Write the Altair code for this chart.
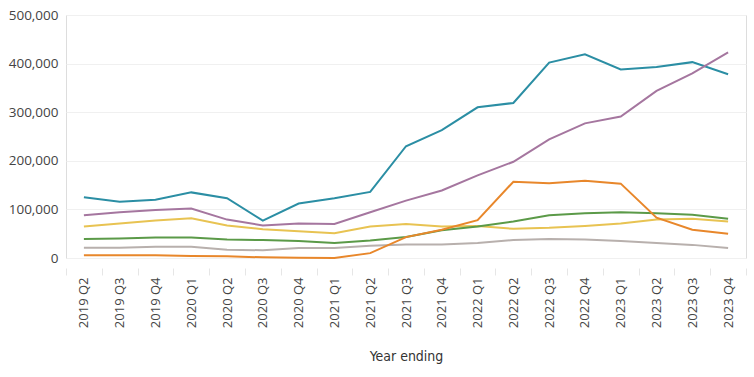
import altair as alt
import pandas as pd

quarters = ["2019 Q2", "2019 Q3", "2019 Q4", "2020 Q1", "2020 Q2", "2020 Q3", "2020 Q4",
            "2021 Q1", "2021 Q2", "2021 Q3", "2021 Q4", "2022 Q1", "2022 Q2", "2022 Q3",
            "2022 Q4", "2023 Q1", "2023 Q2", "2023 Q3", "2023 Q4"]

teal = [125000, 116000, 120000, 135000, 123000, 77000, 112000, 123000, 136000, 230000,
        263000, 310000, 319000, 402000, 419000, 388000, 393000, 403000, 378000]
purple = [88000, 94000, 99000, 102000, 79000, 67000, 71000, 70000, 94000, 118000,
          139000, 170000, 198000, 244000, 277000, 291000, 344000, 380000, 423000]
yellow = [65000, 71000, 77000, 82000, 67000, 59000, 55000, 51000, 65000, 70000,
          65000, 66000, 60000, 62000, 66000, 71000, 79000, 81000, 75000]
green = [39000, 40000, 42000, 42000, 38000, 37000, 35000, 31000, 36000, 43000,
         57000, 65000, 75000, 88000, 92000, 94000, 92000, 89000, 81000]
gray = [21000, 21000, 23000, 23000, 17000, 16000, 20500, 20500, 25000, 28000,
        28000, 31000, 37000, 39000, 38000, 35000, 31000, 27000, 20500]
orange = [5500, 5500, 5500, 4000, 3400, 1400, 700, 0, 10000, 43000,
          58000, 78000, 157000, 154000, 159000, 153000, 83000, 58000, 50000]

series_names = ["Series 1", "Series 2", "Series 3", "Series 4", "Series 5", "Series 6"]
series_values = [teal, purple, yellow, green, gray, orange]
series_colors = ["#2b8ea4", "#a5769f", "#e8c352", "#5b9a48", "#b8b0ad", "#e8872b"]

rows = []
for name, vals in zip(series_names, series_values):
    for q, v in zip(quarters, vals):
        rows.append({"Quarter": q, "Value": v, "Series": name})
df = pd.DataFrame(rows)

font = "Open Sans"

chart = alt.Chart(df).mark_line(strokeWidth=2).encode(
    x=alt.X("Quarter:N", sort=quarters, bandPosition=0.5,
            scale=alt.Scale(type="band", paddingInner=0, paddingOuter=0),
            axis=alt.Axis(title="Year ending", labelAngle=270, labelAlign="right",
                          labelBaseline="middle", labelFontSize=13, labelColor="#444444",
                          labelFont=font, labelPadding=2, tickBand="extent",
                          tickColor="#e6e6e6", tickSize=7, domain=False, offset=10,
                          grid=False, titleFont="DejaVu Sans Condensed, Roboto, sans-serif",
                          titleFontSize=14, titleFontWeight="normal", titleColor="#333333",
                          titlePadding=22)),
    y=alt.Y("Value:Q", scale=alt.Scale(domain=[0, 500000], nice=False),
            axis=alt.Axis(title=None, values=[0, 100000, 200000, 300000, 400000, 500000],
                          format=",d", labelFontSize=13.5, labelColor="#444444",
                          labelFont=font, labelPadding=8, ticks=False, domain=False,
                          gridColor="#f0f0f0", gridWidth=1)),
    color=alt.Color("Series:N", sort=series_names,
                    scale=alt.Scale(domain=series_names, range=series_colors),
                    legend=None),
    order=alt.Order("Series:N"),
).properties(
    width=680, height=243,
    autosize=alt.AutoSizeParams(type="none"),
    padding={"left": 66, "top": 15, "right": 8, "bottom": 119},
).configure_view(stroke=None).configure(background="white")

chart.save("out.html", embed_options={"renderer": "svg", "actions": False})
